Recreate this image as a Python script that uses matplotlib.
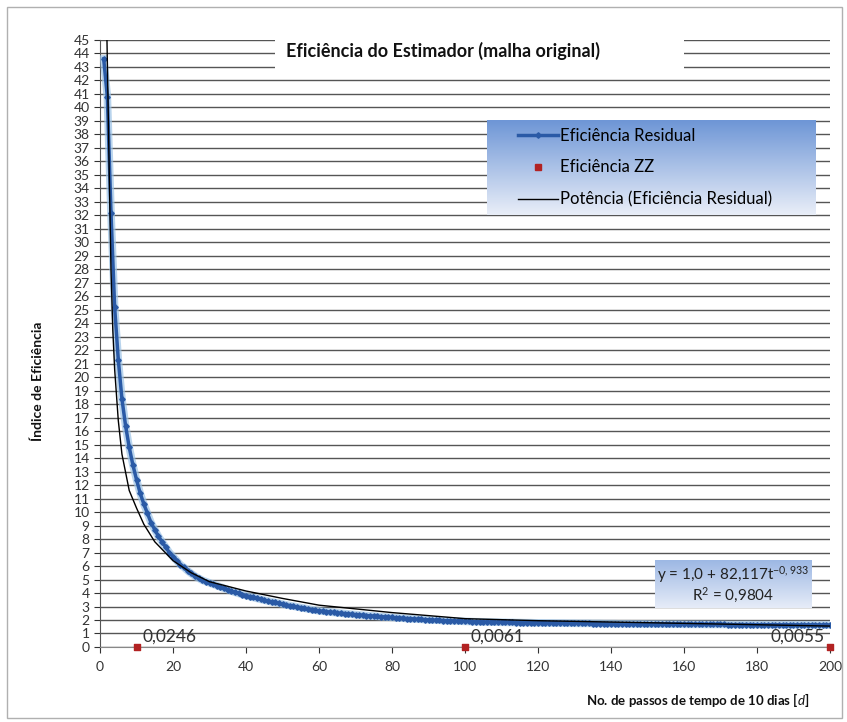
import numpy as np
import matplotlib
matplotlib.use("Agg")
import matplotlib.pyplot as plt
import matplotlib.lines as mlines
from matplotlib.patches import Rectangle

plt.rcParams['font.family'] = ['Lato', 'DejaVu Sans']
plt.rcParams['mathtext.fontset'] = 'custom'
plt.rcParams['mathtext.rm'] = 'Lato'
plt.rcParams['mathtext.it'] = 'Lato:italic'
plt.rcParams['mathtext.bf'] = 'Lato:bold'

# %% Data
steps = np.arange(1, 201)
eff_residual = [
    43.6, 40.8, 32.2, 25.2, 21.3, 18.4, 16.4, 14.8, 13.5, 12.4,
    11.4, 10.6, 9.9, 9.2, 8.7, 8.2, 7.8, 7.4, 7.0, 6.7,
    6.4, 6.1, 5.9, 5.65, 5.45, 5.25, 5.1, 4.95, 4.85, 4.75,
    4.65, 4.55, 4.45, 4.35, 4.25, 4.15, 4.05, 3.97, 3.89, 3.81,
    3.74, 3.67, 3.6, 3.53, 3.47, 3.41, 3.35, 3.3, 3.24, 3.18,
    3.12, 3.07, 3.02, 2.97, 2.92, 2.87, 2.82, 2.77, 2.72, 2.68,
    2.65, 2.62, 2.59, 2.56, 2.53, 2.5, 2.48, 2.45, 2.42, 2.4,
    2.38, 2.35, 2.33, 2.31, 2.29, 2.27, 2.25, 2.23, 2.21, 2.19,
    2.17, 2.15, 2.13, 2.11, 2.1, 2.08, 2.06, 2.05, 2.03, 2.02,
    2.0, 1.99, 1.98, 1.96, 1.95, 1.94, 1.93, 1.92, 1.91, 1.9,
    1.89, 1.88, 1.87, 1.87, 1.86, 1.85, 1.85, 1.84, 1.84, 1.83,
    1.83, 1.82, 1.82, 1.81, 1.81, 1.8, 1.8, 1.8, 1.79, 1.79,
    1.79, 1.78, 1.78, 1.78, 1.77, 1.77, 1.77, 1.76, 1.76, 1.76,
    1.75, 1.75, 1.75, 1.75, 1.74, 1.74, 1.74, 1.73, 1.73, 1.73,
    1.73, 1.72, 1.72, 1.72, 1.72, 1.71, 1.71, 1.71, 1.71, 1.7,
    1.7, 1.7, 1.7, 1.7, 1.69, 1.69, 1.69, 1.69, 1.69, 1.68,
    1.68, 1.68, 1.68, 1.68, 1.68, 1.67, 1.67, 1.67, 1.67, 1.67,
    1.67, 1.66, 1.66, 1.66, 1.66, 1.66, 1.66, 1.66, 1.65, 1.65,
    1.65, 1.65, 1.65, 1.65, 1.65, 1.65, 1.64, 1.64, 1.64, 1.64,
    1.64, 1.64, 1.64, 1.64, 1.64, 1.63, 1.63, 1.63, 1.63, 1.63,
]

# trend line (Potência)
trend_x = [1.9, 2, 2.5, 3, 3.5, 4, 5, 6, 8, 10, 12, 15, 20, 25, 30, 40, 50, 60, 80, 100, 120, 150, 180, 200]
trend_y = [45, 43.5, 35.5, 28.0, 23.5, 20.6, 16.8, 14.3, 11.6, 10.3, 9.1, 7.8, 6.4, 5.5, 4.84, 4.15, 3.6, 3.1, 2.55, 2.1, 1.95, 1.8, 1.65, 1.55]

zz_steps = [10, 100, 200]
zz_values = [0, 0, 0]
zz_labels = ['0,0246', '0,0061', '0,0055']

# %% Figure
fig = plt.figure(figsize=(8.47, 7.22), dpi=100)
fig.patches.append(Rectangle((0.008, 0.006), 0.986, 0.984, transform=fig.transFigure,
                             facecolor='none', edgecolor='#b0b0b0', lw=1.0))

ax = fig.add_axes([0.1181, 0.1039, 0.8618, 0.8407])
ax.set_xlim(0, 200)
ax.set_ylim(0, 45)
ax.set_xticks(range(0, 201, 20))
ax.set_yticks(range(0, 46))
ax.tick_params(axis='both', labelsize=10, colors='#333333', length=4, direction='out')
ax.tick_params(axis='x', pad=6)
ax.yaxis.grid(True, color='#555555', lw=1.0)
ax.set_axisbelow(True)
for s in ['top', 'right']:
    ax.spines[s].set_visible(False)
ax.spines['left'].set_color('#555555')
ax.spines['bottom'].set_color('#888888')

# residual efficiency series (with soft halo)
ax.plot(steps, eff_residual, color='#9cc3e6', lw=5.5, alpha=0.7, zorder=3)
ax.plot(steps, eff_residual, color='#2a5aa6', lw=2.5, marker='D', markersize=2.8, zorder=4)
ax.plot(trend_x, trend_y, color='black', lw=1.0, zorder=5)
ax.scatter(zz_steps, zz_values, marker='s', s=22, color='#b22222', zorder=6, clip_on=False)
for xs, lab in zip(zz_steps, zz_labels):
    if xs == 200:
        ax.text(xs - 1.5, 0.2, lab, ha='right', va='bottom', fontsize=12.5, color='#333333')
    else:
        ax.text(xs + 1.5, 0.2, lab, ha='left', va='bottom', fontsize=12.5, color='#333333')

# title box
ax.add_patch(Rectangle((48, 42.4), 112, 3.0, transform=ax.transData, facecolor='white',
                       edgecolor='none', zorder=7, clip_on=False))
ax.text(94, 44.2, 'Eficiência do Estimador (malha original)', ha='center', va='center',
        fontsize=13, fontweight='bold', color='#111111', zorder=8)

fig.text(0.045, 0.472, 'Índice de Eficiência', rotation=90, ha='center', va='center',
         fontsize=10, fontweight='bold', color='#111111')
fig.text(0.955, 0.030, 'No. de passos de tempo de 10 dias [$\\mathit{d}$]', ha='right', va='center',
         fontsize=9.5, fontweight='bold', color='#111111')

# gradient boxes
grad = np.linspace(0, 1, 100).reshape(-1, 1)
cmap = matplotlib.colors.LinearSegmentedColormap.from_list('g', ['#6e96d6', '#e9eef8'])
cmap_eq = matplotlib.colors.LinearSegmentedColormap.from_list('g2', ['#9db8e4', '#e6ecf8'])

leg_ax = fig.add_axes([487 / 847, 1 - 215 / 722, (815 - 487) / 847, 95 / 722])
leg_ax.imshow(grad, aspect='auto', cmap=cmap, extent=[0, 1, 0, 1])
leg_ax.axis('off')
handles = [
    mlines.Line2D([], [], color='#2a5aa6', lw=2.5, marker='D', markersize=2.8, label='Eficiência Residual'),
    mlines.Line2D([], [], color='#b22222', marker='s', markersize=5, ls='None', label='Eficiência ZZ'),
    mlines.Line2D([], [], color='black', lw=1.0, label='Potência (Eficiência Residual)'),
]
leg_ax.legend(handles=handles, loc='center left', bbox_to_anchor=(0.095, 0.5), frameon=False,
              fontsize=12, handlelength=2.4, labelspacing=0.95, handletextpad=0.1, borderaxespad=0.0,
              borderpad=0.0)

eq_ax = fig.add_axes([655 / 847, 1 - 608 / 722, (812 - 655) / 847, 48 / 722])
eq_ax.imshow(grad, aspect='auto', cmap=cmap_eq, extent=[0, 1, 0, 1])
eq_ax.axis('off')
eq_ax.text(0.5, 0.7, 'y = 1,0 + 82,117t$^{-0,933}$', ha='center', va='center', fontsize=11, color='#222222')
eq_ax.text(0.5, 0.27, 'R$^2$ = 0,9804', ha='center', va='center', fontsize=11, color='#222222')

fig.savefig('out.png', dpi=100)
